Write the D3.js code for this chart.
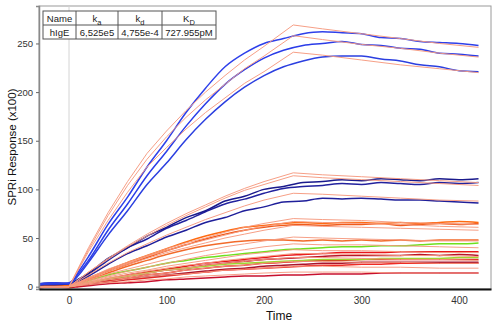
<!DOCTYPE html>
<html>
<head>
<meta charset="utf-8">
<script src="https://cdn.jsdelivr.net/npm/d3@7"></script>
<style>
  body { margin: 0; background: #fff; }
  svg { display: block; font-family: "Liberation Sans", Arial, sans-serif; }
</style>
</head>
<body>
<svg width="500" height="324"></svg>
<script>
// Sample times (s) for measured curves and for fitted curves
const tData = [-30, -15, 0, 10, 20, 40, 60, 80, 100, 120, 140, 160, 180, 200, 220, 240, 260, 280, 300, 320, 340, 360, 380, 400, 420];
const tFit = [-30, 0, 20, 40, 60, 80, 100, 120, 140, 160, 180, 200, 230, 260, 300, 340, 380, 420];

const blue1 = [3, 4, 3, 16, 31, 64, 92, 123, 150, 179, 204, 226, 240, 250, 255, 260, 262, 261, 260, 256, 255, 252, 251, 250, 248];
const blue2 = [3, 3, 4, 14, 27, 58, 85, 114, 139, 165, 188, 208, 223, 235, 243, 248, 250, 252, 249, 248, 245, 244, 240, 239, 237];
const blue3 = [2, 3, 3, 12, 25, 53, 78, 105, 127, 151, 172, 190, 205, 217, 226, 232, 236, 237, 237, 234, 232, 228, 226, 222, 221];
const navy1 = [3, 4, 3, 8, 14, 29, 40, 52, 61, 71, 78, 88, 93, 100, 103, 107, 108, 110, 109, 111, 110, 109, 111, 110, 111];
const navy2 = [2, 3, 3, 7, 13, 27, 40, 49, 60, 68, 77, 85, 90, 96, 101, 103, 104, 106, 105, 107, 106, 105, 107, 106, 107];
const navy3 = [2, 2, 3, 6, 11, 23, 34, 42, 51, 58, 66, 71, 78, 82, 87, 88, 91, 90, 91, 90, 89, 89, 88, 87, 86];
const orange1 = [1, 2, 1, 5, 9, 17, 25, 32, 39, 46, 52, 57, 61, 63, 65, 66, 65, 66, 66, 65, 66, 65, 66, 67, 66];
const orange2 = [1, 1, 2, 4, 8, 16, 23, 30, 37, 43, 49, 54, 58, 61, 63, 64, 63, 64, 64, 65, 63, 64, 65, 64, 65];
const orange3 = [0, 1, 1, 4, 7, 14, 21, 27, 33, 38, 42, 45, 47, 48, 48, 47, 48, 47, 48, 47, 48, 47, 48, 48, 48];
const green1 = [1, 1, 1, 3, 6, 12, 16, 20, 24, 27, 30, 32, 34, 36, 38, 39, 40, 41, 41, 42, 42, 43, 44, 44, 45];
const green2 = [0, 1, 0, 2, 4, 8, 11, 14, 17, 19, 21, 23, 24, 25, 26, 27, 28, 28, 28, 29, 29, 29, 29, 30, 30];
const red1 = [1, 1, 1, 2, 4, 8, 12, 15, 18, 21, 24, 26, 28, 30, 32, 33, 34, 35, 35, 35, 36, 36, 36, 36, 36];
const red2 = [0, 1, 0, 2, 3, 7, 11, 14, 17, 19, 22, 24, 26, 28, 29, 30, 31, 32, 32, 32, 32, 33, 32, 33, 32];
const red3 = [0, 0, 1, 1, 3, 6, 9, 12, 14, 17, 19, 21, 22, 24, 25, 26, 27, 27, 28, 28, 28, 28, 28, 28, 28];
const red4 = [0, 0, 0, 1, 2, 5, 8, 10, 12, 14, 16, 18, 19, 21, 22, 23, 24, 24, 25, 25, 25, 25, 25, 25, 25];
const red5 = [0, 1, 0, 1, 2, 5, 7, 9, 11, 13, 15, 17, 18, 19, 20, 21, 22, 22, 23, 23, 24, 24, 24, 24, 24];
const red6 = [-1, 0, -1, 0, 1, 3, 4, 5, 7, 8, 9, 10, 11, 11, 12, 12, 13, 13, 13, 14, 14, 14, 14, 14, 14];

// Fitted curves (association until 230 s, then dissociation)
const fitA1 = [0, 0, 40, 76, 108, 137, 160, 181, 200, 217, 233, 247, 269, 265, 260, 255, 250, 246];
const fitA2 = [0, 0, 38, 73, 104, 131, 154, 174, 192, 208, 224, 237, 258, 254, 249, 245, 240, 236];
const fitA3 = [0, 0, 36, 68, 97, 123, 143, 162, 179, 194, 209, 221, 241, 238, 233, 228, 224, 220];
const fitB1 = [0, 0, 15, 29, 42, 54, 65, 75, 84, 93, 101, 108, 117, 115, 113, 111, 109, 107];
const fitB2 = [0, 0, 15, 28, 41, 52, 63, 73, 82, 91, 99, 105, 114, 112, 110, 108, 106, 104];
const fitB3 = [0, 0, 12, 24, 35, 44, 53, 61, 69, 76, 83, 89, 96, 95, 93, 91, 89, 88];
const fitC1 = [0, 0, 9, 18, 25, 32, 39, 45, 50, 56, 61, 65, 70, 69, 68, 66, 65, 64];
const fitC2 = [0, 0, 9, 17, 24, 31, 37, 43, 48, 53, 58, 62, 67, 66, 65, 64, 62, 61];
const fitC3 = [0, 0, 8, 16, 23, 29, 35, 40, 45, 50, 54, 58, 63, 62, 61, 60, 59, 58];
const fitC4 = [0, 0, 7, 13, 18, 23, 28, 33, 37, 41, 44, 47, 51, 50, 49, 48, 47, 47];
const fitD1 = [0, 0, 6, 11, 16, 20, 24, 28, 32, 35, 38, 41, 44, 43, 43, 42, 41, 40];
const fitE1 = [0, 0, 5, 10, 14, 17, 21, 24, 27, 30, 33, 35, 38, 37, 37, 36, 35, 35];
const fitE2 = [0, 0, 4, 9, 12, 16, 19, 22, 24, 27, 29, 31, 34, 34, 33, 32, 32, 31];
const fitE3 = [0, 0, 4, 8, 11, 14, 17, 19, 22, 24, 26, 28, 30, 30, 29, 28, 28, 27];
const fitE4 = [0, 0, 3, 7, 9, 12, 14, 17, 19, 21, 22, 24, 26, 26, 25, 25, 24, 24];
const fitE5 = [0, 0, 3, 5, 8, 10, 12, 13, 15, 17, 18, 19, 21, 21, 20, 20, 19, 19];
const fitE6 = [0, 0, 2, 4, 5, 7, 8, 10, 11, 12, 13, 14, 15, 15, 15, 14, 14, 14];

const xTicks = [0, 100, 200, 300, 400];
const yTicks = [0, 50, 100, 150, 200, 250];

// Kinetic table
const tableHead = ["Name", "k|a", "k|d", "K|D"];
const tableRow = ["hIgE", "6,525e5", "4,755e-4", "727.955pM"];

const measured = [
  { v: red6, c: "#c8102e" }, { v: red5, c: "#ee2a24" }, { v: red4, c: "#a8142c" },
  { v: red3, c: "#e0201c" }, { v: red2, c: "#b81428" }, { v: red1, c: "#e8161a" },
  { v: green2, c: "#9ed62e" }, { v: green1, c: "#6fe01e" },
  { v: orange3, c: "#f26a2a" }, { v: orange2, c: "#f05a1a" }, { v: orange1, c: "#ff6a10" },
  { v: navy3, c: "#1f1f9a" }, { v: navy2, c: "#22229e" }, { v: navy1, c: "#1a1a8c" },
  { v: blue3, c: "#2b3fe0" }, { v: blue2, c: "#2a3ce8" }, { v: blue1, c: "#2e40ea" }
];
const fits = [fitA1, fitA2, fitA3, fitB1, fitB2, fitB3, fitC1, fitC2, fitC3, fitC4,
  fitD1, fitE1, fitE2, fitE3, fitE4, fitE5, fitE6];

const svg = d3.select("svg");
const pLeft = 39, pRight = 491, pTop = 6, pBottom = 289;

const x = d3.scaleLinear().domain([-30.8, 432.8]).range([pLeft, pRight]);
const y = d3.scaleLinear().domain([-2.4, 288.5]).range([pBottom, pTop]);

// frame
svg.append("rect")
  .attr("x", pLeft).attr("y", pTop)
  .attr("width", pRight - pLeft).attr("height", pBottom - pTop)
  .attr("fill", "#fff").attr("stroke", "#9a9a9a").attr("stroke-width", 1);

// zero marker
svg.append("line")
  .attr("x1", x(0)).attr("x2", x(0))
  .attr("y1", pTop).attr("y2", pBottom)
  .attr("stroke", "#d4d4d4").attr("stroke-width", 1);

svg.append("clipPath").attr("id", "clip")
  .append("rect").attr("x", pLeft).attr("y", pTop)
  .attr("width", pRight - pLeft).attr("height", pBottom - pTop);
const plot = svg.append("g").attr("clip-path", "url(#clip)");

const lineData = d3.line().curve(d3.curveMonotoneX)
  .x((d, i) => x(tData[i])).y(d => y(d));
const lineFit = d3.line().x((d, i) => x(tFit[i])).y(d => y(d));

measured.forEach(s => {
  plot.append("path")
    .attr("d", lineData(s.v))
    .attr("fill", "none")
    .attr("stroke", s.c)
    .attr("stroke-width", 1.5)
    .attr("stroke-linejoin", "round");
});

fits.forEach(f => {
  plot.append("path")
    .attr("d", lineFit(f))
    .attr("fill", "none")
    .attr("stroke", "#f59a7f")
    .attr("stroke-width", 1)
    .attr("opacity", 0.95);
});

// axes
const yAxis = svg.append("g")
  .attr("transform", `translate(${pLeft},0)`)
  .call(d3.axisLeft(y).tickValues(yTicks).tickSize(3).tickPadding(3));
yAxis.select(".domain").attr("stroke", "#8a8a8a").attr("stroke-width", 1.5);
yAxis.selectAll(".tick line").attr("stroke", "#666");
yAxis.selectAll("text").attr("font-size", 9.5).attr("fill", "#333")
  .attr("font-family", "Liberation Sans, Arial, sans-serif");

const xAxis = svg.append("g")
  .attr("transform", `translate(0,${pBottom})`)
  .call(d3.axisBottom(x).tickValues(xTicks).tickSize(0).tickPadding(8));
xAxis.select(".domain").attr("stroke", "#111").attr("stroke-width", 2);
xAxis.selectAll("text").attr("font-size", 10).attr("fill", "#333")
  .attr("font-family", "Liberation Sans, Arial, sans-serif");

// axis titles
svg.append("text")
  .attr("x", (pLeft + pRight) / 2 + 14).attr("y", 320)
  .attr("text-anchor", "middle")
  .attr("font-size", 12).attr("fill", "#111")
  .text("Time");

svg.append("text")
  .attr("transform", "translate(16,147) rotate(-90)")
  .attr("text-anchor", "middle")
  .attr("font-size", 11.5).attr("fill", "#111")
  .text("SPRi Response (x100)");

// table
const colX = [43, 76, 118, 162, 216];
const rowY = [11, 25, 39];
const tbl = svg.append("g");
tbl.append("rect")
  .attr("x", colX[0]).attr("y", rowY[0])
  .attr("width", colX[4] - colX[0]).attr("height", rowY[2] - rowY[0])
  .attr("fill", "#fff").attr("stroke", "#555").attr("stroke-width", 1);
tbl.append("line").attr("x1", colX[0]).attr("x2", colX[4])
  .attr("y1", rowY[1]).attr("y2", rowY[1]).attr("stroke", "#555");
colX.slice(1, 4).forEach(cx => {
  tbl.append("line").attr("x1", cx).attr("x2", cx)
    .attr("y1", rowY[0]).attr("y2", rowY[2]).attr("stroke", "#555");
});

function cellText(txt, col, row) {
  const cx = (colX[col] + colX[col + 1]) / 2;
  const t = tbl.append("text")
    .attr("x", cx).attr("y", rowY[row] + 10.5)
    .attr("text-anchor", "middle")
    .attr("font-size", 9.5).attr("fill", "#222");
  const parts = txt.split("|");
  t.append("tspan").text(parts[0]);
  if (parts[1]) {
    t.append("tspan").attr("dy", 3).attr("font-size", 7.5).text(parts[1]);
  }
}
tableHead.forEach((h, i) => cellText(h, i, 0));
tableRow.forEach((h, i) => cellText(h, i, 1));
</script>
</body>
</html>
